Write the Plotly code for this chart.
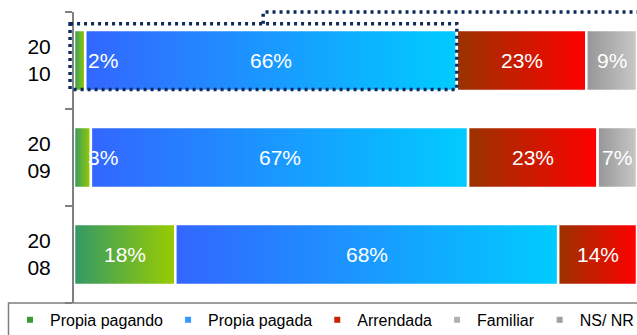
import plotly.graph_objects as go

# ---- data ----
years = ["2010", "2009", "2008"]
year_labels = ["20<br>10", "20<br>09", "20<br>08"]
series_names = ["Propia pagando", "Propia pagada", "Arrendada", "Familiar", "NS/ NR"]
propia_pagando = [2, 3, 18]
propia_pagada = [66, 67, 68]
arrendada = [23, 23, 14]
familiar = [9, 7, 0]
ns_nr = [0, 0, 0]
values = [propia_pagando, propia_pagada, arrendada, familiar, ns_nr]

# ---- styles ----
gradients = [
    ("#339966", "#99CC00"),
    ("#3366FF", "#00CCFF"),
    ("#993300", "#FF0000"),
    ("#969696", "#C8C8C8"),
    ("#808080", "#B2B2B2"),
]
legend_colors = ["#3a9a3a", "#3399FF", "#CC2200", "#B0B0B0", "#A0A0A0"]
FONT = "Liberation Sans, Arial, sans-serif"
HALF = 0.315
X_RANGE = [0, 100]
Y_RANGE = [2.5, -0.5]

L, T, B = 74, 12, 32
PW = 563

ypos = list(range(len(years)))

fig = go.Figure()

annotations = []
for si, name in enumerate(series_names):
    c0, c1 = gradients[si]
    for yi, yc in enumerate(ypos):
        v = values[si][yi]
        if v <= 0:
            continue
        left = sum(values[k][yi] for k in range(si))
        right = left + v
        fig.add_trace(go.Scatter(
            x=[left, right, right, left, left],
            y=[yc - HALF, yc - HALF, yc + HALF, yc + HALF, yc - HALF],
            mode="lines", fill="toself",
            fillgradient=dict(type="horizontal", colorscale=[[0, c0], [1, c1]]),
            line=dict(color="white", width=2.5),
            showlegend=False, hoverinfo="skip",
        ))
        if v < 5:
            annotations.append(dict(x=left, y=yc, xref="x", yref="y", text=f"{v}%",
                                    showarrow=False, xanchor="left", xshift=12,
                                    font=dict(family=FONT, size=21, color="white")))
        else:
            annotations.append(dict(x=(left + right) / 2, y=yc, xref="x", yref="y",
                                    text=f"{v}%", showarrow=False,
                                    font=dict(family=FONT, size=21, color="white")))

# legend entries
for si, name in enumerate(series_names):
    fig.add_trace(go.Scatter(
        x=[None], y=[None], mode="markers", name=name,
        marker=dict(symbol="square", size=6, color=legend_colors[si]),
    ))


def xd(v):
    return (v - X_RANGE[0]) / (X_RANGE[1] - X_RANGE[0])


def yd(v):
    return (Y_RANGE[0] - v) / (Y_RANGE[0] - Y_RANGE[1])


navy = "#0E2A5C"
dots = "3px,4px"
top_y = 0 - 0.38
bot_y = 0 + 0.30
rect_right = propia_pagando[0] + propia_pagada[0]
bracket_x = 33.6
shapes = [
    dict(type="rect", xref="x domain", yref="y domain",
         x0=xd(-0.7), x1=xd(rect_right), y0=yd(top_y), y1=yd(bot_y),
         line=dict(color=navy, width=3.5, dash=dots), layer="above"),
    dict(type="path", xref="x domain", yref="y domain",
         path=f"M {xd(bracket_x)},{yd(top_y)} L {xd(bracket_x)},{yd(-0.5)} L 1.02,{yd(-0.5)}",
         line=dict(color=navy, width=3.5, dash=dots), layer="above"),
    # legend frame
    dict(type="path", xref="paper", yref="paper",
         path=f"M {(8.5 - L) / PW},-0.3 L {(8.5 - L) / PW},0 L 1.02,0",
         line=dict(color="#7F7F7F", width=1.5), layer="above"),
]

fig.update_layout(
    width=L + PW, height=335,
    margin=dict(l=L, r=0, t=T, b=B, autoexpand=False),
    paper_bgcolor="white", plot_bgcolor="white",
    font=dict(family=FONT, color="black"),
    xaxis=dict(range=X_RANGE, showgrid=False, zeroline=False, showticklabels=False,
               showline=False, ticks="", automargin=False),
    yaxis=dict(range=Y_RANGE, tickmode="array", tickvals=ypos, ticktext=year_labels,
               showgrid=False, zeroline=False, showline=True, linecolor="#808080",
               linewidth=2, ticks="", ticklabelstandoff=17, automargin=False,
               tickfont=dict(family=FONT, size=21, color="black"),
               minor=dict(tickmode="array", tickvals=[-0.5, 0.5, 1.5, 2.5],
                          ticks="outside", ticklen=7, tickwidth=1.5, tickcolor="#808080")),
    showlegend=True,
    legend=dict(orientation="h", x=(10 - L) / PW, xanchor="left", y=-0.058,
                yanchor="middle", font=dict(family=FONT, size=16, color="black"),
                bgcolor="rgba(0,0,0,0)", borderwidth=0),
    shapes=shapes,
    annotations=annotations,
)

fig.write_html(
    "out.html",
    config={"displayModeBar": False},
    post_script="document.body.style.margin='0';"
                "document.documentElement.style.overflow='hidden';",
)
